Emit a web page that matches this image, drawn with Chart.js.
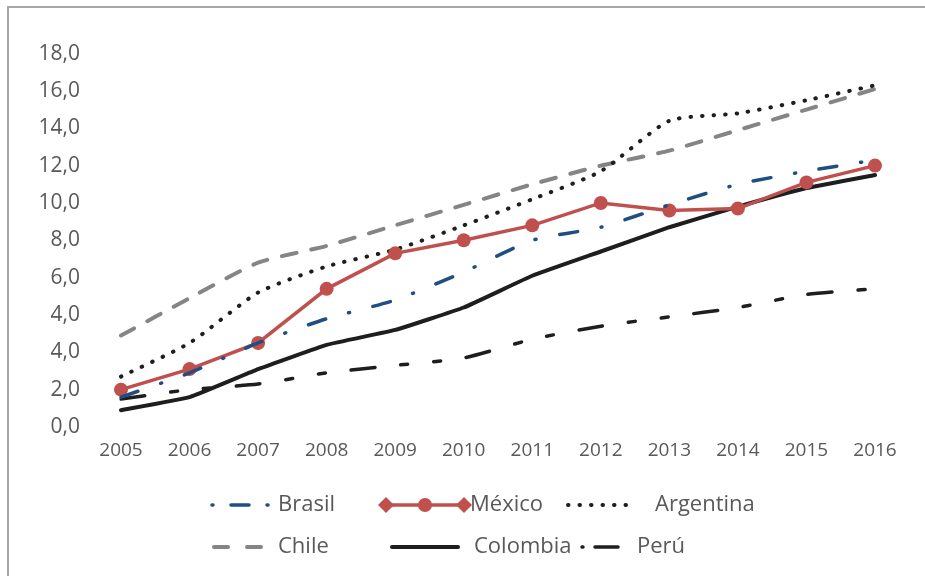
<!DOCTYPE html>
<html>
<head>
<meta charset="utf-8">
<script src="https://cdn.jsdelivr.net/npm/chart.js@4/dist/chart.umd.min.js"></script>
<style>
  html, body { margin: 0; padding: 0; background: #fff; }
  #wrap { width: 925px; height: 576px; position: relative; }
</style>
</head>
<body>
<div id="wrap"><canvas id="chart" width="925" height="576"></canvas></div>
<script>
// data (axis units: one tick step = 2)
const years = ['2005', '2006', '2007', '2008', '2009', '2010', '2011', '2012', '2013', '2014', '2015', '2016'];
const yTickLabels = ['0,0', '2,0', '4,0', '4,0', '6,0', '8,0', '10,0', '12,0', '14,0', '16,0', '18,0'];

const brasil    = [1.6, 2.9, 4.5, 5.8, 6.8, 8.3, 10.0, 10.7, 11.9, 13.0, 13.7, 14.3];
const mexico    = [2.0, 3.1, 4.5, 7.4, 9.3, 10.0, 10.8, 12.0, 11.6, 11.7, 13.1, 14.0];
const argentina = [2.7, 4.5, 7.2, 8.6, 9.5, 10.8, 12.2, 13.7, 16.4, 16.8, 17.5, 18.3];
const chile     = [4.9, 6.9, 8.8, 9.7, 10.8, 11.9, 13.0, 14.0, 14.8, 15.9, 17.0, 18.1];
const colombia  = [0.9, 1.6, 3.1, 4.4, 5.2, 6.4, 8.1, 9.4, 10.7, 11.8, 12.8, 13.5];
const peru      = [1.5, 2.0, 2.3, 2.9, 3.3, 3.7, 4.7, 5.4, 5.9, 6.4, 7.1, 7.4];

const TEXT = '#595959';
const FONT = "'Open Sans', sans-serif";

// frame lines on the left and top like the original export
const framePlugin = {
    id: 'frame',
    beforeDraw(chart) {
        const ctx = chart.ctx;
        ctx.save();
        ctx.fillStyle = '#fff';
        ctx.fillRect(0, 0, chart.width, chart.height);
        ctx.fillStyle = '#a6a6a6';
        ctx.fillRect(7, 6, 2, chart.height - 6);
        ctx.fillRect(7, 6, chart.width - 7, 2);
        ctx.restore();
    }
};

// hand placed legend, 3 + 3 items
const legendItems = [
    { ds: 0, x: 212, y: 505, w: 56, tx: 278, dash: [1, 18, 18, 18] },
    { ds: 1, x: 386, y: 505, w: 78, tx: 470, marker: true },
    { ds: 2, x: 568, y: 505, w: 69, tx: 655, dash: [0.5, 11] },
    { ds: 3, x: 214, y: 547, w: 47, tx: 278, dash: [14, 19] },
    { ds: 4, x: 392, y: 547, w: 66, tx: 474 },
    { ds: 5, x: 582, y: 547, w: 48, tx: 637, dash: [1, 12, 23, 12] }
];

const legendPlugin = {
    id: 'customLegend',
    afterDraw(chart) {
        const ctx = chart.ctx;
        legendItems.forEach(it => {
            const ds = chart.data.datasets[it.ds];
            ctx.save();
            ctx.strokeStyle = ds.borderColor;
            ctx.lineWidth = ds.borderWidth;
            ctx.lineCap = 'round';
            ctx.setLineDash(it.dash || []);
            ctx.beginPath();
            ctx.moveTo(it.x, it.y);
            ctx.lineTo(it.x + it.w, it.y);
            ctx.stroke();
            if (it.marker) {
                ctx.fillStyle = ds.borderColor;
                [it.x, it.x + it.w].forEach(cx => {
                    ctx.beginPath();
                    ctx.moveTo(cx - 8, it.y);
                    ctx.lineTo(cx, it.y - 8);
                    ctx.lineTo(cx + 8, it.y);
                    ctx.lineTo(cx, it.y + 8);
                    ctx.closePath();
                    ctx.fill();
                });
                ctx.beginPath();
                ctx.arc(it.x + it.w / 2, it.y, 7, 0, Math.PI * 2);
                ctx.fill();
            }
            ctx.setLineDash([]);
            ctx.fillStyle = TEXT;
            ctx.font = '22px ' + FONT;
            ctx.textAlign = 'left';
            ctx.textBaseline = 'middle';
            ctx.fillText(ds.label, it.tx, it.y);
            ctx.restore();
        });
    }
};

new Chart(document.getElementById('chart'), {
    type: 'line',
    data: {
        labels: years,
        datasets: [
            { label: 'Brasil', data: brasil, borderColor: '#1f4e80', borderWidth: 3.5, borderDash: [18, 24, 1, 24],
              borderCapStyle: 'round', pointRadius: 0, tension: 0.2 },
            { label: 'México', data: mexico, borderColor: '#c0504d', backgroundColor: '#c0504d', borderWidth: 3.5,
              pointRadius: 7, pointBackgroundColor: '#c0504d', pointBorderWidth: 0, tension: 0 },
            { label: 'Argentina', data: argentina, borderColor: '#1e1e1e', borderWidth: 4, borderDash: [0.5, 11],
              borderCapStyle: 'round', pointRadius: 0, tension: 0.2 },
            { label: 'Chile', data: chile, borderColor: '#858585', borderWidth: 4, borderDash: [15, 15],
              borderCapStyle: 'round', pointRadius: 0, tension: 0.2 },
            { label: 'Colombia', data: colombia, borderColor: '#1e1e1e', borderWidth: 4,
              borderCapStyle: 'round', pointRadius: 0, tension: 0.1 },
            { label: 'Perú', data: peru, borderColor: '#1e1e1e', borderWidth: 3.5, borderDash: [24, 26, 7, 26, 7, 26],
              borderCapStyle: 'round', pointRadius: 0, tension: 0.2 }
        ]
    },
    options: {
        responsive: false,
        animation: false,
        layout: { padding: { left: 0, right: 50, top: 48, bottom: 109 } },
        plugins: {
            legend: { display: false },
            tooltip: { enabled: false }
        },
        scales: {
            x: {
                offset: false,
                grid: { display: false, drawTicks: false },
                border: { display: false },
                afterFit: s => { s.height = 40; },
                ticks: { color: TEXT, font: { family: FONT, size: 19 }, padding: 12, maxRotation: 0, autoSkip: false }
            },
            y: {
                min: 0,
                max: 20,
                grid: { display: false, drawTicks: false },
                border: { display: false },
                afterFit: s => { s.width = 121; },
                ticks: {
                    stepSize: 2,
                    color: TEXT,
                    font: { family: FONT, size: 21 },
                    padding: 41,
                    callback: (v, i) => yTickLabels[i]
                }
            }
        }
    },
    plugins: [framePlugin, legendPlugin]
});
</script>
</body>
</html>
